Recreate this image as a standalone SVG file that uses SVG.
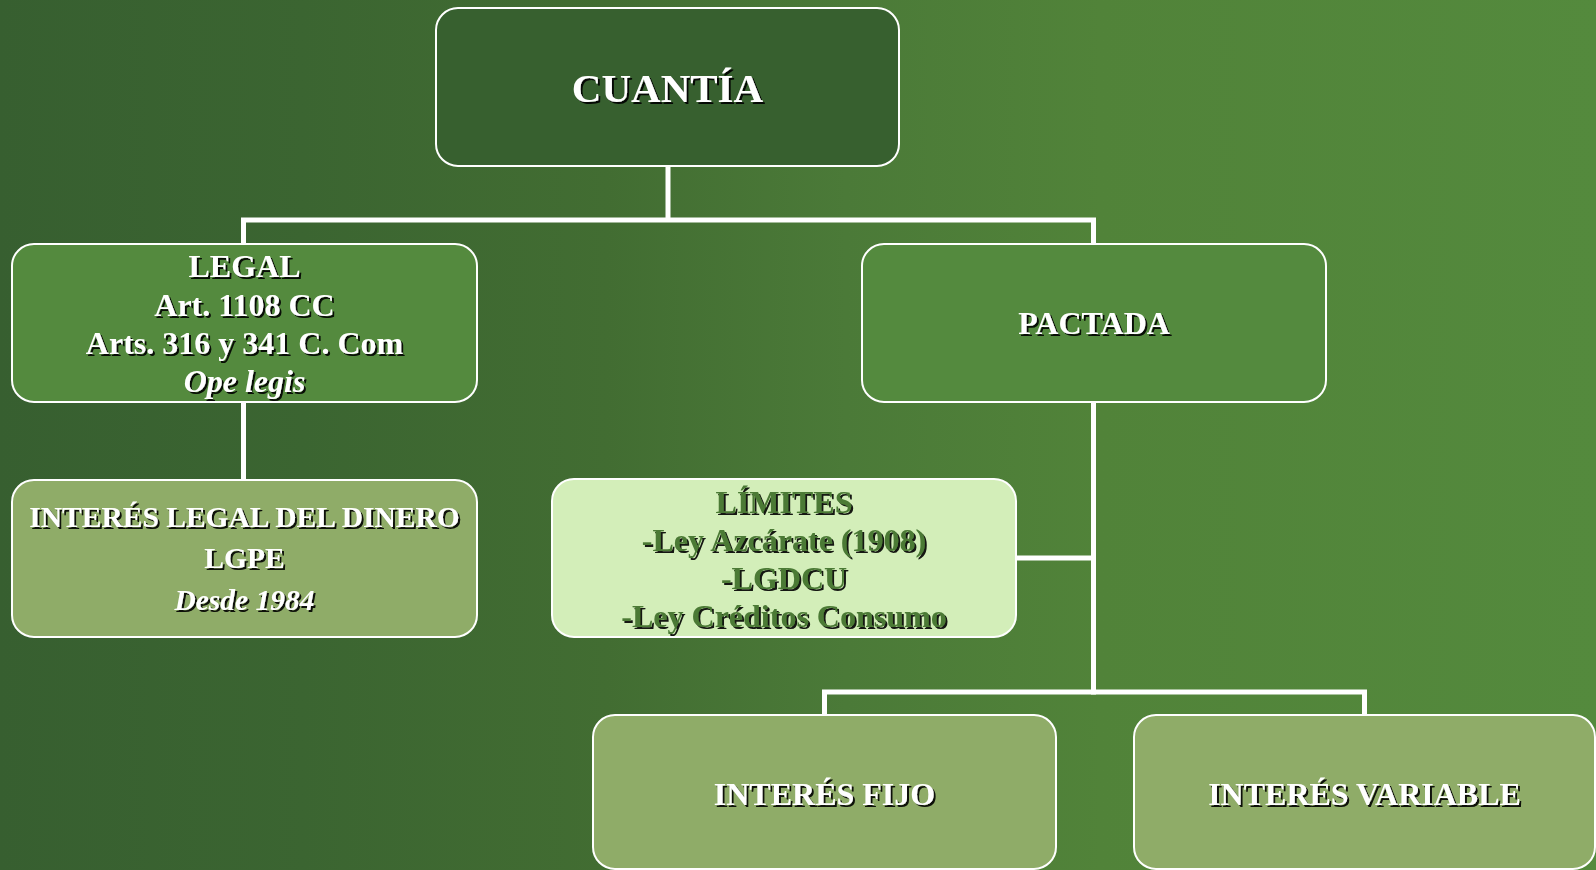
<svg xmlns="http://www.w3.org/2000/svg" width="1596" height="870" viewBox="0 0 1596 870">
  <defs>
    <linearGradient id="bg" x1="0" y1="0" x2="1" y2="0">
      <stop offset="0" stop-color="#375f30"/>
      <stop offset="0.19" stop-color="#3b6531"/>
      <stop offset="0.38" stop-color="#426d32"/>
      <stop offset="0.53" stop-color="#4b7a38"/>
      <stop offset="0.69" stop-color="#518339"/>
      <stop offset="1" stop-color="#548a3d"/>
    </linearGradient>
    <filter id="sh" x="-10%" y="-20%" width="120%" height="140%">
      <feDropShadow dx="2" dy="2" stdDeviation="0.6" flood-color="#000" flood-opacity="0.9"/>
    </filter>
  </defs>
  <style>
    .box { stroke: #ffffff; stroke-width: 2; }
    .dark { fill: #37602f; }
    .mid { fill: #548a3e; }
    .light { fill: #8fac68; }
    .pale { fill: #d3eeb9; }
    .t { font-family: "Liberation Serif", "Times New Roman", serif; font-weight: bold; text-anchor: middle; fill: #ffffff; filter: url(#sh); }
    .tg { fill: #4b7a35; }
    .i { font-style: italic; }
    .conn { stroke: #ffffff; stroke-width: 5; fill: none; }
  </style>
  <rect x="0" y="0" width="1596" height="870" fill="url(#bg)"/>

  <g id="connectors">
    <line class="conn" x1="668" y1="166" x2="668" y2="220"/>
    <line class="conn" x1="241" y1="220" x2="1096" y2="220"/>
    <line class="conn" x1="243.5" y1="220" x2="243.5" y2="244"/>
    <line class="conn" x1="1093.5" y1="220" x2="1093.5" y2="244"/>
    <line class="conn" x1="243.5" y1="402" x2="243.5" y2="480"/>
    <line class="conn" x1="1093.5" y1="402" x2="1093.5" y2="694.5"/>
    <line class="conn" x1="1016" y1="558" x2="1093.5" y2="558"/>
    <line class="conn" x1="822" y1="692" x2="1367" y2="692"/>
    <line class="conn" x1="824.5" y1="692" x2="824.5" y2="715"/>
    <line class="conn" x1="1364.5" y1="692" x2="1364.5" y2="715"/>
  </g>

  <g id="cuantia">
    <rect class="box dark" x="436" y="8" width="463" height="158" rx="22"/>
    <text class="t" x="667.5" y="102" font-size="41">CUANTÍA</text>
  </g>

  <g id="legal">
    <rect class="box mid" x="12" y="244" width="465" height="158" rx="22"/>
    <text class="t" x="244.5" y="277" font-size="32">LEGAL</text>
    <text class="t" x="244.5" y="315.5" font-size="32">Art. 1108 CC</text>
    <text class="t" x="244.5" y="354" font-size="32">Arts. 316 y 341 C. Com</text>
    <text class="t i" x="244.5" y="391.5" font-size="32">Ope legis</text>
  </g>

  <g id="pactada">
    <rect class="box mid" x="862" y="244" width="464" height="158" rx="22"/>
    <text class="t" x="1094" y="334" font-size="32">PACTADA</text>
  </g>

  <g id="interes-legal">
    <rect class="box light" x="12" y="480" width="465" height="157" rx="22"/>
    <text class="t" x="244.5" y="527" font-size="29.5">INTERÉS LEGAL DEL DINERO</text>
    <text class="t" x="244.5" y="568" font-size="29.5">LGPE</text>
    <text class="t i" x="244.5" y="610" font-size="29.5">Desde 1984</text>
  </g>

  <g id="limites">
    <rect class="box pale" x="552" y="479" width="464" height="158" rx="22"/>
    <text class="t tg" x="784" y="513" font-size="32">LÍMITES</text>
    <text class="t tg" x="784" y="550.5" font-size="32">-Ley Azcárate (1908)</text>
    <text class="t tg" x="784" y="588.5" font-size="32">-LGDCU</text>
    <text class="t tg" x="784" y="627" font-size="32">-Ley Créditos Consumo</text>
  </g>

  <g id="interes-fijo">
    <rect class="box light" x="593" y="715" width="463" height="154" rx="22"/>
    <text class="t" x="824.5" y="805" font-size="32">INTERÉS FIJO</text>
  </g>

  <g id="interes-variable">
    <rect class="box light" x="1134" y="715" width="461" height="154" rx="22"/>
    <text class="t" x="1364.5" y="805" font-size="32">INTERÉS VARIABLE</text>
  </g>
</svg>
